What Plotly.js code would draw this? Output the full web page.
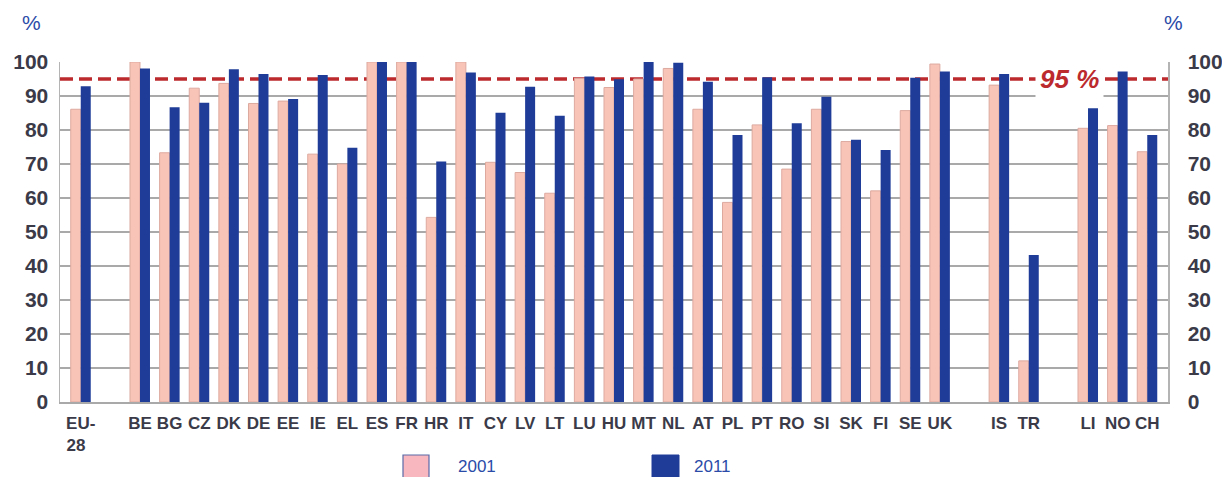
<!DOCTYPE html>
<html>
<head>
<meta charset="utf-8">
<script src="https://cdn.plot.ly/plotly-3.0.1.min.js"></script>
<style>html,body{margin:0;padding:0;background:#fff;}#chart{width:1222px;height:477px;}</style>
</head>
<body>
<div id="chart"></div>
<script>
// Category order (blank entries are the gaps between groups)
const categoryOrder = ["EU-<br>28\u00a0\u00a0", " ", "BE","BG","CZ","DK","DE","EE","IE","EL","ES","FR","HR","IT","CY","LV","LT","LU","HU","MT","NL","AT","PL","PT","RO","SI","SK","FI","SE","UK", "  ", "IS","TR", "   ", "LI","NO","CH"];
const countries = ["EU-<br>28\u00a0\u00a0","BE","BG","CZ","DK","DE","EE","IE","EL","ES","FR","HR","IT","CY","LV","LT","LU","HU","MT","NL","AT","PL","PT","RO","SI","SK","FI","SE","UK","IS","TR","LI","NO","CH"];
const values2001 = [86.1,100,73.3,92.3,93.7,87.8,88.5,72.9,70.0,100,100,54.3,100,70.5,67.5,61.4,95.2,92.5,95.0,98.1,86.1,58.7,81.5,68.5,86.1,76.6,62.1,85.7,99.4,93.2,12.1,80.5,81.3,73.6];
const values2011 = [92.9,98.1,86.7,88.0,97.9,96.5,89.1,96.2,74.8,100,100,70.7,96.9,85.1,92.7,84.2,95.7,94.9,100,99.8,94.2,78.5,95.5,82.0,89.8,77.1,74.1,95.4,97.2,96.5,43.2,86.4,97.2,78.5];
const seriesNames = ["2001","2011"];
const target = 95;
const yTicks = [0,10,20,30,40,50,60,70,80,90,100];

const pink = "#F8C4B8";
const blue = "#1F3C98";
const textBlue = "#2B4BA8";
const ff = "Liberation Sans, Arial, sans-serif";
const tickFont = {family: ff, size: 21, color: "#3A3A48", weight: "bold"};

const traces = [
  {type: "bar", name: seriesNames[0], x: countries, y: values2001,
   marker: {color: pink, line: {color: "#DDA99F", width: 1}}, hoverinfo: "x+y"},
  {type: "bar", name: seriesNames[1], x: countries, y: values2011,
   marker: {color: blue, line: {color: blue, width: 0}}, hoverinfo: "x+y"},
  {type: "scatter", mode: "markers", x: countries, y: values2011, yaxis: "y2",
   marker: {opacity: 0}, hoverinfo: "skip", showlegend: false}
];

const yCommon = {
  range: [0, 100], tickvals: yTicks, ticktext: yTicks.map(String),
  showgrid: true, gridcolor: "#A9A9A9", gridwidth: 1.5,
  zeroline: false, showline: true, linecolor: "#B4B4B4", linewidth: 1.5,
  ticks: "", tickfont: tickFont, fixedrange: true
};

const layout = {
  width: 1222, height: 477,
  margin: {l: 60, r: 54, t: 62, b: 75},
  paper_bgcolor: "#ffffff", plot_bgcolor: "#ffffff",
  showlegend: false,
  barmode: "group", bargap: 0.325, bargroupgap: 0,
  xaxis: {
    type: "category", categoryorder: "array", categoryarray: categoryOrder,
    range: [-0.7, categoryOrder.length - 0.3],
    showgrid: false, zeroline: false, showline: true, linecolor: "#A9A9A9", linewidth: 1.5,
    ticks: "", ticklabelstandoff: 5,
    tickfont: {family: ff, size: 17, color: "#3A3A48", weight: "bold"}
  },
  yaxis: Object.assign({}, yCommon, {side: "left", ticklabelstandoff: 6}),
  yaxis2: Object.assign({}, yCommon, {side: "right", overlaying: "y", showgrid: false, ticklabelstandoff: 14}),
  shapes: [
    {type: "line", xref: "paper", x0: 0, x1: 1, yref: "y", y0: target, y1: target,
     layer: "between", line: {color: "#BC2A2E", width: 3.5, dash: "13px,6px"}},
    {type: "rect", xref: "paper", yref: "paper", x0: (403-60)/1108, x1: (429-60)/1108, y0: (402-455)/340, y1: (402-480)/340,
     fillcolor: "#F8B7BF", line: {color: "#5A6AA8", width: 1.2}},
    {type: "rect", xref: "paper", yref: "paper", x0: (652-60)/1108, x1: (679-60)/1108, y0: (402-455)/340, y1: (402-480)/340,
     fillcolor: blue, line: {color: blue, width: 1}}
  ],
  annotations: [
    {text: "<b><i>95 %</i></b>", xref: "paper", yref: "y", x: (1069-60)/1108, y: target,
     xanchor: "center", yanchor: "middle",
     showarrow: false, bgcolor: "#ffffff", borderpad: 4,
     font: {family: ff, size: 26, color: "#BC2A2E"}},
    {text: "%", xref: "paper", yref: "paper", x: (31-60)/1108, y: (402-36)/340, xanchor: "center", yanchor: "bottom",
     showarrow: false, font: {family: ff, size: 21, color: textBlue}},
    {text: "%", xref: "paper", yref: "paper", x: (1173-60)/1108, y: (402-36)/340, xanchor: "center", yanchor: "bottom",
     showarrow: false, font: {family: ff, size: 21, color: textBlue}},
    {text: seriesNames[0], xref: "paper", yref: "paper", x: (456-60)/1108, y: (402-466)/340, xanchor: "left", yanchor: "middle",
     showarrow: false, font: {family: ff, size: 17, color: textBlue}},
    {text: seriesNames[1], xref: "paper", yref: "paper", x: (692-60)/1108, y: (402-466)/340, xanchor: "left", yanchor: "middle",
     showarrow: false, font: {family: ff, size: 17, color: textBlue}}
  ]
};

Plotly.newPlot("chart", traces, layout, {displayModeBar: false, staticPlot: true});
</script>
</body>
</html>
